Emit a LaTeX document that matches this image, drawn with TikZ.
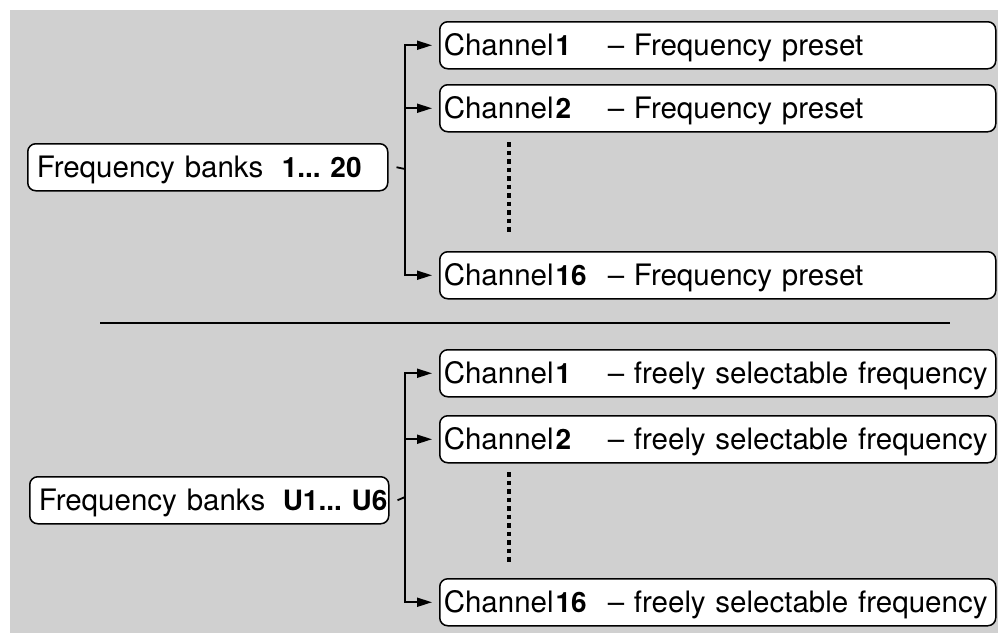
\documentclass[tikz,border=0pt]{standalone}
\usepackage{fontspec}
\setmainfont{TeX Gyre Heros}
\usetikzlibrary{arrows.meta}
\definecolor{bggray}{RGB}{208,208,208}
\newcommand\bn[1]{{\fontsize{28}{34}\selectfont\bfseries #1}}
\begin{document}
\begin{tikzpicture}[x=1pt,y=-1pt,
  boxbase/.style={draw=black, fill=white, line width=1.5pt, rounded corners=8pt,
    anchor=north west, minimum height=47pt, text height=21pt, text depth=0pt,
    align=left, font=\fontsize{29.5}{35}\selectfont},
  bank/.style={boxbase, inner xsep=9pt, text width=342pt},
  chan/.style={boxbase, inner xsep=4pt, text width=548pt},
  conn/.style={line width=1.8pt, -{Triangle[length=15pt,width=9pt]}},
  stub/.style={line width=1.8pt},
  vdots/.style={line width=4pt, dash pattern=on 4.5pt off 4pt},
  sep/.style={line width=1.6pt}]
\useasboundingbox (0,0) rectangle (998,633);
\fill[bggray] (10,10) rectangle (998,633);

% upper group
\node[bank] (b1) at (27,143) {\mbox{\makebox[245pt][l]{Frequency banks}\bn{1...\ 20}}};
\node[chan] (c1) at (439,21) {\mbox{\makebox[164pt][l]{Channel\kern2pt\bn{1}}– Frequency preset}};
\node[chan] (c2) at (439,84) {\mbox{\makebox[164pt][l]{Channel\kern2pt\bn{2}}– Frequency preset}};
\node[chan] (c16) at (439,251) {\mbox{\makebox[164pt][l]{Channel\kern2pt\bn{16}}– Frequency preset}};
\coordinate (j1) at (405,169);
\draw[stub] ([xshift=8pt]b1.east) -- (j1);
\draw[conn] (j1) |- ([xshift=-7pt]c1.west);
\draw[conn] (j1) |- ([xshift=-7pt]c2.west);
\draw[conn] (j1) |- ([xshift=-7pt]c16.west);
\draw[vdots] (509,142) -- (509,235);

% separator
\draw[sep] (100,323) -- (950,323);

% lower group
\node[bank, text width=341pt] (b2) at (29,476) {\mbox{\makebox[244pt][l]{Frequency banks}\bn{U1...\ U6}}};
\node[chan] (d1) at (439,349) {\mbox{\makebox[164pt][l]{Channel\kern2pt\bn{1}}– freely selectable frequency}};
\node[chan] (d2) at (439,415) {\mbox{\makebox[164pt][l]{Channel\kern2pt\bn{2}}– freely selectable frequency}};
\node[chan] (d16) at (439,578) {\mbox{\makebox[164pt][l]{Channel\kern2pt\bn{16}}– freely selectable frequency}};
\coordinate (j2) at (405,497);
\draw[stub] ([xshift=8pt]b2.east) -- (j2);
\draw[conn] (j2) |- ([xshift=-7pt]d1.west);
\draw[conn] (j2) |- ([xshift=-7pt]d2.west);
\draw[conn] (j2) |- ([xshift=-7pt]d16.west);
\draw[vdots] (509,472) -- (509,563);
\end{tikzpicture}
\end{document}
